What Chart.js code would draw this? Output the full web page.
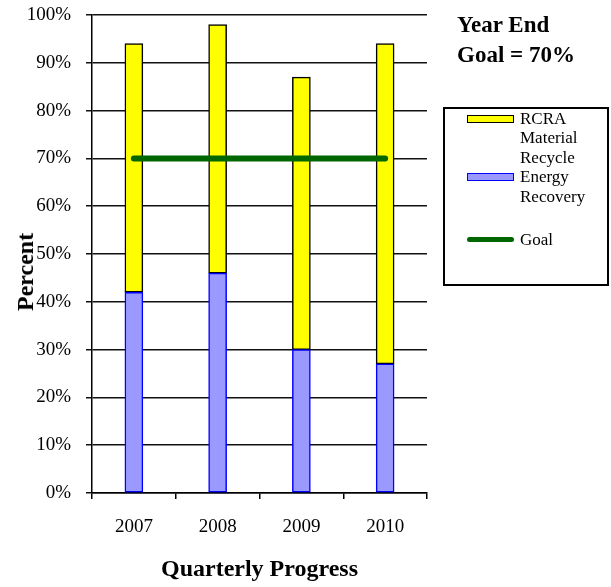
<!DOCTYPE html>
<html>
<head>
<meta charset="utf-8">
<script src="https://cdn.jsdelivr.net/npm/chart.js@4.4.1/dist/chart.umd.min.js"></script>
<style>
  body { margin: 0; background: #fff; font-family: "Liberation Serif", "Times New Roman", serif; color: #000; }
  #wrap { position: relative; width: 611px; height: 587px; }
  #goal-note { position: absolute; left: 457px; top: 10px; font-weight: bold; font-size: 23px; line-height: 30px; }
  #y-title { position: absolute; left: 25px; top: 272px; transform: translate(-50%, -50%) rotate(-90deg); font-weight: bold; font-size: 24px; line-height: 24px; white-space: nowrap; }
  #legend { position: absolute; left: 443px; top: 107px; width: 166px; height: 179px; border: 2px solid #000; box-sizing: border-box; }
  .lg-item { position: relative; padding-left: 75px; width: 72px; font-size: 17px; line-height: 19.4px; }
  .lg-item.gap { margin-top: 24px; }
  .lg-key { position: absolute; left: 22px; top: 5.5px; width: 47px; height: 8px; box-sizing: border-box; }
</style>
</head>
<body>
<div id="wrap">
  <canvas id="chart" width="611" height="587"></canvas>
  <div id="y-title">Percent</div>
  <div id="goal-note">Year End<br>Goal = 70%</div>
  <div id="legend"></div>
</div>
<script>
const years = ['2007', '2008', '2009', '2010'];
const energyRecovery = [42, 46, 30, 27];
const materialRecycle = [52, 52, 57, 67];
const goal = [70, 70, 70, 70];
const yTicks = [0, 10, 20, 30, 40, 50, 60, 70, 80, 90, 100];

const serif = '"Liberation Serif", "Times New Roman", serif';
Chart.defaults.font.family = serif;
Chart.defaults.color = '#000';

const chart = new Chart(document.getElementById('chart'), {
  type: 'bar',
  data: {
    labels: years,
    datasets: [
      {
        label: 'Energy Recovery',
        data: energyRecovery,
        backgroundColor: '#9999ff',
        borderColor: '#0000ff',
        borderWidth: 1.5,
        borderSkipped: false,
        barThickness: 18,
        stack: 'bars'
      },
      {
        label: 'RCRA Material Recycle',
        data: materialRecycle,
        backgroundColor: '#ffff00',
        borderColor: '#000',
        borderWidth: 1.5,
        borderSkipped: false,
        barThickness: 18,
        stack: 'bars'
      },
      {
        type: 'line',
        label: 'Goal',
        data: goal,
        borderColor: '#006600',
        borderWidth: 6,
        borderCapStyle: 'round',
        pointRadius: 0,
        stack: 'goal',
        order: -1
      }
    ]
  },
  options: {
    responsive: false,
    animation: false,
    layout: { padding: { top: 15, right: 184, left: 0, bottom: 0 } },
    plugins: { legend: { display: false }, tooltip: { enabled: false } },
    scales: {
      x: {
        stacked: true,
        offset: true,
        grid: { display: true, drawOnChartArea: false, color: '#000', lineWidth: 1.5, tickLength: 6 },
        border: { display: true, color: '#000', width: 1.5 },
        ticks: { font: { size: 19 }, padding: 17, maxRotation: 0 },
        title: { display: true, text: 'Quarterly Progress', font: { size: 24, weight: 'bold', lineHeight: 1 }, padding: { top: 0, bottom: 5 } },
        afterFit(scale) { scale.height = 94; }
      },
      y: {
        stacked: true,
        min: 0,
        max: 100,
        afterBuildTicks(scale) { scale.ticks = yTicks.map(v => ({ value: v })); },
        grid: { color: '#111', lineWidth: 1.5, tickLength: 6 },
        border: { display: true, color: '#000', width: 1.5 },
        ticks: { font: { size: 19 }, padding: 15, callback: v => v + '%' },
        title: { display: false },
        afterFit(scale) {
          scale.width = 92;
          scale.paddingTop = 0;
          scale.paddingBottom = 0;
        }
      }
    }
  }
});

// html legend, same order as the original key
const legendOrder = [1, 0, 2];
document.getElementById('legend').innerHTML = legendOrder.map(i => {
  const ds = chart.data.datasets[i];
  const key = ds.type === 'line'
    ? `<span class="lg-key" style="top:7px;height:5px;border-radius:3px;background:${ds.borderColor}"></span>`
    : `<span class="lg-key" style="background:${ds.backgroundColor};border:1.5px solid ${ds.borderColor}"></span>`;
  return `<div class="lg-item${ds.type === 'line' ? ' gap' : ''}">${key}${ds.label}</div>`;
}).join('');
</script>
</body>
</html>
